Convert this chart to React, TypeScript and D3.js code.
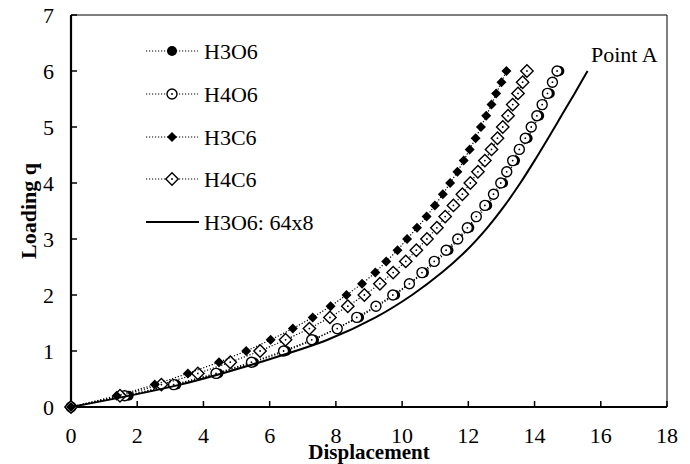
import React from "react";
import * as d3 from "d3";

// Loading levels (q)
const qAll = [0, 0.2, 0.4, 0.6, 0.8, 1.0, 1.2, 1.4, 1.6, 1.8, 2.0, 2.2, 2.4, 2.6, 2.8, 3.0, 3.2, 3.4, 3.6, 3.8, 4.0, 4.2, 4.4, 4.6, 4.8, 5.0, 5.2, 5.4, 5.6, 5.8, 6.0];

// H3O6 (filled circles)
const h3o6Q = [0, 0.2, 0.4, 0.6, 0.8, 1.0, 1.2, 1.6, 2.0, 2.4, 2.8, 3.2, 3.6, 4.0, 4.4, 4.8, 5.2, 5.6, 6.0];
const h3o6X = [0, 1.74, 3.18, 4.45, 5.52, 6.5, 7.34, 8.7, 9.79, 10.66, 11.4, 12.03, 12.57, 13.05, 13.41, 13.79, 14.14, 14.46, 14.75];

// H4O6 (open circles)
const h4o6X = [0, 1.62, 3.1, 4.38, 5.45, 6.42, 7.27, 8.04, 8.63, 9.21, 9.72, 10.22, 10.6, 10.97, 11.33, 11.68, 11.97, 12.24, 12.5, 12.76, 12.98, 13.16, 13.34, 13.54, 13.72, 13.9, 14.07, 14.23, 14.39, 14.54, 14.68];

// H3C6 (filled diamonds)
const h3c6X = [0, 1.38, 2.53, 3.53, 4.47, 5.29, 6.03, 6.7, 7.3, 7.84, 8.32, 8.79, 9.19, 9.52, 9.86, 10.15, 10.45, 10.74, 10.99, 11.23, 11.45, 11.67, 11.86, 12.04, 12.22, 12.38, 12.54, 12.7, 12.84, 13.0, 13.15];

// H4C6 (open diamonds)
const h4c6X = [0, 1.48, 2.73, 3.83, 4.81, 5.71, 6.48, 7.2, 7.82, 8.36, 8.86, 9.33, 9.73, 10.11, 10.43, 10.75, 11.05, 11.3, 11.55, 11.82, 12.06, 12.29, 12.5, 12.7, 12.88, 13.04, 13.2, 13.34, 13.5, 13.64, 13.77];

// H3O6: 64x8 (solid line)
const fineQ = [0, 0.4, 0.8, 1.2, 1.6, 2.0, 2.4, 2.8, 3.2, 3.6, 4.0, 4.4, 4.8, 5.2, 5.6, 6.0];
const fineX = [0, 3.3, 5.7, 7.75, 9.2, 10.3, 11.2, 11.95, 12.57, 13.1, 13.57, 14.0, 14.41, 14.81, 15.21, 15.6];

const xTicks = [0, 2, 4, 6, 8, 10, 12, 14, 16, 18];
const yTicks = [0, 1, 2, 3, 4, 5, 6, 7];
const legendLabels = ["H3O6", "H4O6", "H3C6", "H4C6", "H3O6: 64x8"];

const W = 690;
const H = 464;
const FONT = "'Liberation Serif', 'Times New Roman', serif";

type Kind = "fc" | "oc" | "fd" | "od";

function Marker({ kind, x, y }: { kind: Kind; x: number; y: number }) {
  if (kind === "fc") return <circle cx={x} cy={y} r={5} fill="#000" />;
  if (kind === "oc")
    return (
      <g>
        <circle cx={x} cy={y} r={5} fill="#fff" stroke="#000" strokeWidth={1.4} />
        <circle cx={x} cy={y} r={0.9} fill="#000" />
      </g>
    );
  if (kind === "fd") {
    const s = 5;
    return <path d={`M${x},${y - s}L${x + s},${y}L${x},${y + s}L${x - s},${y}Z`} fill="#000" />;
  }
  const s = 6.2;
  return (
    <g>
      <path d={`M${x},${y - s}L${x + s},${y}L${x},${y + s}L${x - s},${y}Z`} fill="#fff" stroke="#000" strokeWidth={1.4} />
      <circle cx={x} cy={y} r={0.9} fill="#000" />
    </g>
  );
}

export default function App() {
  const x = d3.scaleLinear().domain([0, 18]).range([71, 667]);
  const y = d3.scaleLinear().domain([0, 7]).range([407, 15]);
  const line = d3
    .line<[number, number]>()
    .x((d) => x(d[0]))
    .y((d) => y(d[1]));
  const smooth = d3
    .line<[number, number]>()
    .x((d) => x(d[0]))
    .y((d) => y(d[1]))
    .curve(d3.curveCatmullRom.alpha(0.5));

  const series: { kind: Kind; pts: [number, number][] }[] = [
    { kind: "fc", pts: h3o6X.map((v, i) => [v, h3o6Q[i]]) },
    { kind: "oc", pts: h4o6X.map((v, i) => [v, qAll[i]]) },
    { kind: "od", pts: h4c6X.map((v, i) => [v, qAll[i]]) },
    { kind: "fd", pts: h3c6X.map((v, i) => [v, qAll[i]]) },
  ];
  const finePts: [number, number][] = fineX.map((v, i) => [v, fineQ[i]]);

  const legendKinds: (Kind | null)[] = ["fc", "oc", "fd", "od", null];
  const legendY = [51, 94, 137, 179, 222];

  return (
    <svg width={W} height={H} style={{ position: "absolute", left: 0, top: 0, background: "#fff" }} fontFamily={FONT}>
      <rect width={W} height={H} fill="#fff" />
      {/* frame */}
      <line x1={x(0)} x2={x(18)} y1={y(7)} y2={y(7)} stroke="#000" strokeWidth={1} />
      <line x1={x(18)} x2={x(18)} y1={y(7)} y2={y(0)} stroke="#000" strokeWidth={1} />
      {/* ticks */}
      {xTicks.map((t) => (
        <g key={"xt" + t}>
          <line x1={x(t)} x2={x(t)} y1={y(0)} y2={y(0) - 6} stroke="#000" strokeWidth={1.5} />
          <text x={x(t)} y={443} textAnchor="middle" fontSize={22}>
            {t}
          </text>
        </g>
      ))}
      {yTicks.map((t) => (
        <g key={"yt" + t}>
          <line x1={x(0)} x2={x(0) + 6} y1={y(t)} y2={y(t)} stroke="#000" strokeWidth={1.5} />
          <text x={54} y={y(t) + 7.5} textAnchor="end" fontSize={22}>
            {t}
          </text>
        </g>
      ))}
      {/* axes */}
      <line x1={x(0)} x2={x(0)} y1={y(7)} y2={y(0) + 1} stroke="#000" strokeWidth={2.2} />
      <line x1={x(0) - 1} x2={x(18)} y1={y(0)} y2={y(0)} stroke="#000" strokeWidth={2.2} />

      <text x={(x(0) + x(18)) / 2} y={459} textAnchor="middle" fontSize={21} fontWeight="bold">
        Displacement
      </text>
      <text transform={`translate(36,${y(3.5)}) rotate(-90)`} textAnchor="middle" fontSize={22} fontWeight="bold">
        Loading q
      </text>

      {/* series */}
      {series.map((s, si) => (
        <g key={"s" + si}>
          <path d={line(s.pts) || ""} fill="none" stroke="#000" strokeWidth={1.2} strokeDasharray="1.2,1.8" />
          {s.pts.map((p, i) => (
            <Marker key={i} kind={s.kind} x={x(p[0])} y={y(p[1])} />
          ))}
        </g>
      ))}
      <path d={smooth(finePts) || ""} fill="none" stroke="#000" strokeWidth={2} />

      <text x={591} y={62} fontSize={22}>
        Point A
      </text>

      {/* legend */}
      {legendLabels.map((lab, i) => {
        const k = legendKinds[i];
        const ly = legendY[i];
        return (
          <g key={"lg" + i}>
            {k ? (
              <>
                <line x1={146} x2={198} y1={ly} y2={ly} stroke="#000" strokeWidth={1.2} strokeDasharray="1.2,1.8" />
                <Marker kind={k} x={172} y={ly} />
              </>
            ) : (
              <line x1={146} x2={199} y1={ly} y2={ly} stroke="#000" strokeWidth={2} />
            )}
            <text x={204} y={ly + 7.5} fontSize={22}>
              {lab}
            </text>
          </g>
        );
      })}
    </svg>
  );
}
